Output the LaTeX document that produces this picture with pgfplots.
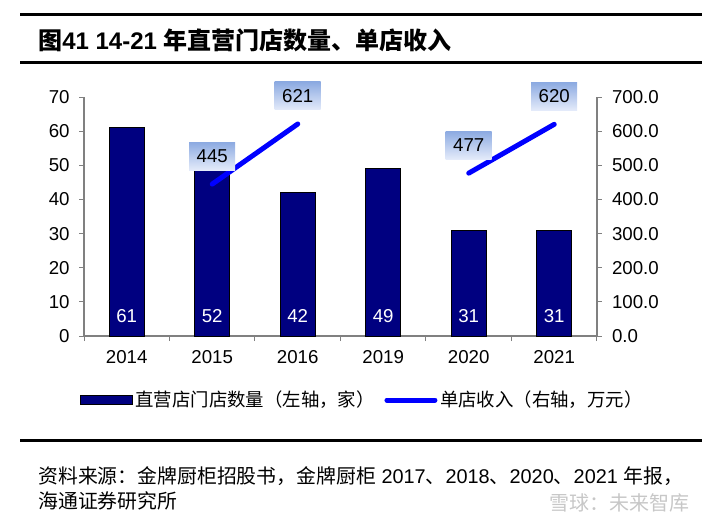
\documentclass[border=0pt]{standalone}
\usepackage{pgfplots}
\pgfplotsset{compat=1.18}
\usepackage{fontspec}
\setmainfont{Liberation Sans}
\newfontfamily\cjk{Noto Sans CJK SC}
\definecolor{barnavy}{RGB}{0,0,128}
\definecolor{axgray}{RGB}{128,128,128}
\definecolor{boxtop}{RGB}{140,170,225}
\definecolor{boxbot}{RGB}{228,235,250}
\begin{document}
\begin{tikzpicture}
\useasboundingbox (0,0) rectangle (530.25pt,-396.75pt);
% header rules and title
\draw[line width=2.25pt] (15pt,-10.5pt) -- (526.5pt,-10.5pt);
\draw[line width=2.25pt] (15pt,-46.5pt) -- (526.5pt,-46.5pt);
\node[anchor=west, inner sep=0pt, font=\fontsize{18}{21}\selectfont\bfseries] at (28.5pt,-30pt)
  {{\cjk 图}41 14-21 {\cjk 年直营门店数量、单店收入}};
% footer
\draw[line width=2.25pt] (15pt,-330pt) -- (526.5pt,-330pt);
\node[anchor=west, inner sep=0pt, font=\fontsize{14.9}{18}\selectfont] at (28.5pt,-357pt)
  {{\cjk 资料来源：金牌厨柜招股书，金牌厨柜} 2017{\cjk 、}2018{\cjk 、}2020{\cjk 、}2021 {\cjk 年报，}};
\node[anchor=west, inner sep=0pt, font=\fontsize{14.9}{18}\selectfont] at (28.5pt,-375.75pt)
  {{\cjk 海通证券研究所}};
\node[anchor=east, inner sep=0pt, text=black!22, font=\fontsize{15}{18}\selectfont] at (517pt,-377pt)
  {{\cjk 雪球：未来智库}};
% left axis: bars
\begin{axis}[
  scale only axis, width=384.75pt, height=179.25pt,
  at={(63pt,-252pt)}, anchor=south west,
  xmin=-0.5, xmax=5.5, ymin=0, ymax=70,
  axis x line=bottom, axis y line=left,
  axis line style={axgray, line width=0.9pt, -},
  ytick={0,10,...,70},
  xtick={-0.5,0.5,...,5.5}, xticklabels={},
  extra x ticks={0,1,2,3,4,5},
  extra x tick labels={2014,2015,2016,2019,2020,2021},
  extra x tick style={major tick length=0pt, xticklabel style={yshift=-7pt}},
  yticklabel style={xshift=-3.5pt},
  tick align=outside, major tick length=3.75pt,
  tick style={axgray, line width=0.75pt},
  tick label style={font=\fontsize{14}{16}\selectfont, text=black},
  /pgf/number format/assume math mode=true,
  clip=false,
]
\addplot[ybar, bar width=26.25pt, fill=barnavy, draw=black, line width=0.75pt]
  coordinates {(0,61) (1,52) (2,42) (3,49) (4,31) (5,31)};
\addplot[draw=none, point meta=explicit symbolic, nodes near coords,
  every node near coord/.append style={anchor=center, text=white, font=\fontsize{14}{16}\selectfont, inner sep=0pt}]
  coordinates {(0,5.9)[61] (1,5.9)[52] (2,5.9)[42] (3,5.9)[49] (4,5.9)[31] (5,5.9)[31]};
\end{axis}
% right axis: lines
\begin{axis}[
  scale only axis, width=384.75pt, height=179.25pt,
  at={(63pt,-252pt)}, anchor=south west,
  xmin=-0.5, xmax=5.5, ymin=0, ymax=700,
  axis x line=none, axis y line*=right,
  axis line style={axgray, line width=0.9pt, -},
  ytick={0,100,...,700},
  yticklabel style={xshift=4pt, /pgf/number format/.cd, fixed, fixed zerofill, precision=1},
  tick align=outside, major tick length=3.75pt,
  tick style={axgray, line width=0.75pt},
  tick label style={font=\fontsize{14}{16}\selectfont, text=black},
  /pgf/number format/assume math mode=true,
  clip=false,
  legend style={at={(0.543,-0.268)}, anchor=center, draw=none, fill=none,
    legend columns=2, font=\cjk\fontsize{13.8}{16}\selectfont,
    /tikz/every even column/.append style={column sep=5.25pt},
    /tikz/every odd column/.append style={}},
  boxlab/.style={every node near coord/.append style={anchor=center, yshift=21pt,
    shade, top color=boxtop, bottom color=boxbot, minimum width=34.5pt, minimum height=21pt,
    inner sep=0pt, text=black, font=\fontsize{14}{16}\selectfont}},
]
\addlegendimage{legend image code/.code={\draw[fill=barnavy, draw=black, line width=0.75pt] (0pt,-3.4pt) rectangle (39pt,3.4pt);}}
\addlegendentry{直营店门店数量（左轴，家）}
\addplot[blue, line width=3.75pt, line cap=round, nodes near coords, point meta=explicit symbolic, boxlab,
  legend image code/.code={\draw[blue, line width=3.75pt, line cap=round] (1.5pt,0pt) -- (37.5pt,0pt);}]
  coordinates {(1,445)[445] (2,621)[621]};
\addlegendentry{单店收入（右轴，万元）}
\addplot[blue, line width=3.75pt, line cap=round, nodes near coords, point meta=explicit symbolic, boxlab, forget plot]
  coordinates {(4,477)[477] (5,620)[620]};
\end{axis}
\end{tikzpicture}
\end{document}
